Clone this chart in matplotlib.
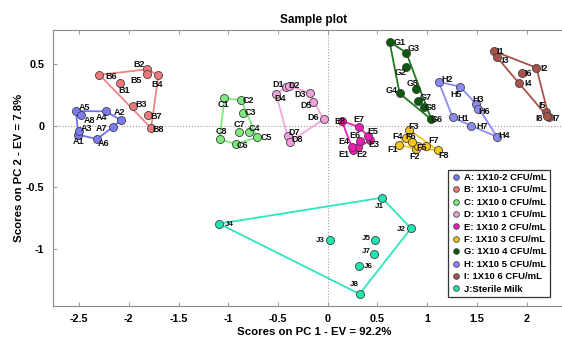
import numpy as np
import matplotlib
matplotlib.use("Agg")
import matplotlib.pyplot as plt

plt.rcParams['font.family'] = ['Liberation Sans', 'DejaVu Sans']
plt.rcParams['font.weight'] = 'bold'

# scores (PC1, PC2), samples 1..n of each group
A = np.array([[-2.507, -0.074], [-2.080, 0.044], [-2.500, -0.042], [-2.231, 0.115],
              [-2.533, 0.117], [-2.322, -0.109], [-2.155, -0.010], [-2.483, 0.083]])
B = np.array([[-2.088, 0.346], [-1.813, 0.455], [-1.954, 0.160], [-1.702, 0.406],
              [-1.819, 0.419], [-2.296, 0.411], [-1.803, 0.085], [-1.776, -0.020]])
C = np.array([[-1.038, 0.220], [-0.870, 0.206], [-0.847, 0.104], [-0.787, -0.055],
              [-0.712, -0.095], [-0.920, -0.150], [-0.890, -0.055], [-1.088, -0.112]])
D = np.array([[-0.421, 0.314], [-0.387, 0.320], [-0.183, 0.265], [-0.518, 0.252],
              [-0.143, 0.190], [-0.042, 0.050], [-0.404, -0.087], [-0.384, -0.133]])
E = np.array([[0.253, -0.198], [0.307, -0.176], [0.428, -0.117], [0.240, -0.170],
              [0.404, -0.085], [0.327, -0.123], [0.310, -0.010], [0.143, 0.036]])
F = np.array([[0.719, -0.158], [0.890, -0.187], [0.820, -0.036], [0.790, -0.104],
              [0.904, -0.166], [0.847, -0.131], [0.988, -0.166], [1.105, -0.198]])
G = np.array([[0.622, 0.678], [0.790, 0.471], [0.790, 0.589], [0.723, 0.260],
              [0.884, 0.298], [1.041, 0.050], [0.904, 0.201], [0.971, 0.147]])
H = np.array([[1.256, 0.066], [1.115, 0.354], [1.491, 0.174], [1.702, -0.091],
              [1.333, 0.314], [1.511, 0.131], [1.444, -0.002]])
I = np.array([[1.668, 0.603], [2.098, 0.468], [1.702, 0.552], [1.927, 0.346],
              [2.195, 0.112], [1.954, 0.427], [2.225, 0.066], [2.205, 0.077]])
J = np.array([[0.545, -0.584], [0.837, -0.832], [0.018, -0.924], [-1.092, -0.794],
              [0.478, -0.924], [0.317, -1.134], [0.468, -1.040], [0.320, -1.363]])

groups = ['A', 'B', 'C', 'D', 'E', 'F', 'G', 'H', 'I', 'J']
scores = [A, B, C, D, E, F, G, H, I, J]
legend_labels = ['A: 1X10-2 CFU/mL', 'B: 1X10-1 CFU/mL', 'C: 1X10 0 CFU/mL',
                 'D: 1X10 1 CFU/mL', 'E: 1X10 2 CFU/mL', 'F: 1X10 3 CFU/mL',
                 'G: 1X10 4 CFU/mL', 'H: 1X10 5 CFU/mL', 'I: 1X10 6 CFU/mL',
                 'J:Sterile Milk']
face_colors = ['#7B7BF5', '#F07878', '#7CEB7C', '#F0A0DC', '#F01CB4',
               '#F5C518', '#0A5A0A', '#8A8AF5', '#A8524A', '#1EE6B4']
line_colors = ['#7070F5', '#F08484', '#7CEB7C', '#F5A5DD', '#F01CB4',
               '#F5C518', '#1E7A1E', '#8A8AF5', '#A8524A', '#2EE6BE']

# label offsets in pixels (dx right, dy down), default to the right
label_off = {
    'A1': (0, 7), 'A2': (-1, -7), 'A3': (7, -2), 'A4': (-4, 6), 'A5': (8, -3),
    'A6': (7, 4), 'A7': (-11, 2), 'A8': (8, 5),
    'B1': (4, 7), 'B2': (-8, -5), 'B3': (7, -1), 'B4': (-1, 9), 'B5': (-10, 6),
    'B6': (11, 2), 'B7': (7, 1), 'B8': (7, 1),
    'C1': (-1, 6), 'C2': (7, 0), 'C3': (7, 0), 'C4': (5, -4), 'C5': (9, 0),
    'C6': (6, 1), 'C7': (0, -8), 'C8': (2, -8),
    'D1': (-7, -2), 'D2': (5, 0), 'D3': (-9, 2), 'D4': (4, 4), 'D5': (-7, 3),
    'D6': (-10, -2), 'D7': (6, -4), 'D8': (7, -2),
    'E1': (-9, 4), 'E2': (3, 7), 'E3': (3, 4), 'E4': (-7, -5), 'E5': (5, -4),
    'E6': (-5, -5), 'E7': (0, -7), 'E8': (-2, 0),
    'F1': (-6, 4), 'F2': (-2, 8), 'F3': (4, -3), 'F4': (-8, -2), 'F5': (4, 1),
    'F6': (-1, -5), 'F7': (7, -5), 'F8': (6, 5),
    'G1': (10, 1), 'G2': (-5, 5), 'G3': (7, -4), 'G4': (-8, -3), 'G5': (-3, -5),
    'G6': (5, 0), 'G7': (8, -3), 'G8': (6, 0),
    'H1': (10, 1), 'H2': (8, -2), 'H3': (2, -4), 'H4': (7, -1), 'H5': (-4, 7),
    'H6': (6, 2), 'H7': (10, 1),
    'I1': (6, 0), 'I2': (7, 1), 'I3': (8, 3), 'I4': (8, 1), 'I5': (-4, -6),
    'I6': (6, 1), 'I7': (7, 1), 'I8': (-8, 2),
    'J1': (-2, 8), 'J2': (-9, 1), 'J3': (-9, 1), 'J4': (10, 1), 'J5': (-9, -1),
    'J6': (9, 1), 'J7': (-8, -2), 'J8': (-5, -9),
}


def convex_hull(pts):
    p = sorted(map(tuple, pts))

    def cross(o, a, b):
        return (a[0]-o[0])*(b[1]-o[1]) - (a[1]-o[1])*(b[0]-o[0])
    lower = []
    for q in p:
        while len(lower) >= 2 and cross(lower[-2], lower[-1], q) <= 0:
            lower.pop()
        lower.append(q)
    upper = []
    for q in reversed(p):
        while len(upper) >= 2 and cross(upper[-2], upper[-1], q) <= 0:
            upper.pop()
        upper.append(q)
    h = lower[:-1] + upper[:-1]
    h.append(h[0])
    return np.array(h)


fig = plt.figure(figsize=(5.62, 3.43), dpi=100)
ax = fig.add_axes([0.0938, 0.1079, 0.93, 0.8046])
ax.set_xlim(-2.765, 2.49)
ax.set_ylim(-1.46, 0.773)

ax.axvline(0, color='#A0A0A0', ls=':', lw=0.8, zorder=0)
ax.axhline(0, color='#A0A0A0', ls=':', lw=0.8, zorder=0)

handles = []
for g, pts, fc, lc, lab in zip(groups, scores, face_colors, line_colors, legend_labels):
    hull = convex_hull(pts)
    ax.plot(hull[:, 0], hull[:, 1], color=lc, lw=1.3, zorder=2)
    h, = ax.plot(pts[:, 0], pts[:, 1], 'o', ms=5.8, mfc=fc, mec='#404040',
                 mew=0.6, ls='none', zorder=3, label=lab)
    handles.append(h)
    fs = 5.8 if g == 'J' else 6.5
    for k, (x, y) in enumerate(pts):
        name = f"{g}{k+1}"
        dx, dy = label_off.get(name, (7, 0))
        ax.annotate(name, (x, y), xytext=(dx*0.75, -dy*0.75), textcoords='offset points',
                    ha='center', va='center', fontsize=fs, fontweight='bold',
                    color='#111111', zorder=4)

leg = ax.legend(handles=handles, loc='lower right', bbox_to_anchor=(550/562, (343-297)/343),
                bbox_transform=fig.transFigure, fontsize=6.8, frameon=True, fancybox=False,
                borderpad=0.35, labelspacing=0.36, handlelength=0.8, handletextpad=0.5,
                markerscale=0.7, borderaxespad=0)
leg.get_frame().set_edgecolor('black')
leg.get_frame().set_linewidth(0.9)
for t in leg.get_texts():
    t.set_fontweight('bold')

for s in ['left', 'bottom', 'top', 'right']:
    ax.spines[s].set_color('#8A8A8A')
    ax.spines[s].set_linewidth(0.8)

ax.set_xticks([-2.5, -2, -1.5, -1, -0.5, 0, 0.5, 1, 1.5, 2])
ax.set_xticklabels(['-2.5', '-2', '-1.5', '-1', '-0.5', '0', '0.5', '1', '1.5', '2'])
ax.set_yticks([-1, -0.5, 0, 0.5])
ax.set_yticklabels(['-1', '-0.5', '0', '0.5'])
ax.tick_params(direction='in', length=3, width=0.6, color='#8A8A8A', labelsize=7.8,
               top=True, right=True, pad=6)
for t in ax.get_xticklabels() + ax.get_yticklabels():
    t.set_fontweight('bold')

ax.set_title('Sample plot', fontsize=8.5, fontweight='bold', pad=5)
ax.set_xlabel('Scores on PC 1 - EV = 92.2%', fontsize=8.2, fontweight='bold', labelpad=2)
ax.set_ylabel('Scores on PC 2 - EV = 7.8%', fontsize=8.2, fontweight='bold', labelpad=1)

fig.savefig('out.png', dpi=100)
